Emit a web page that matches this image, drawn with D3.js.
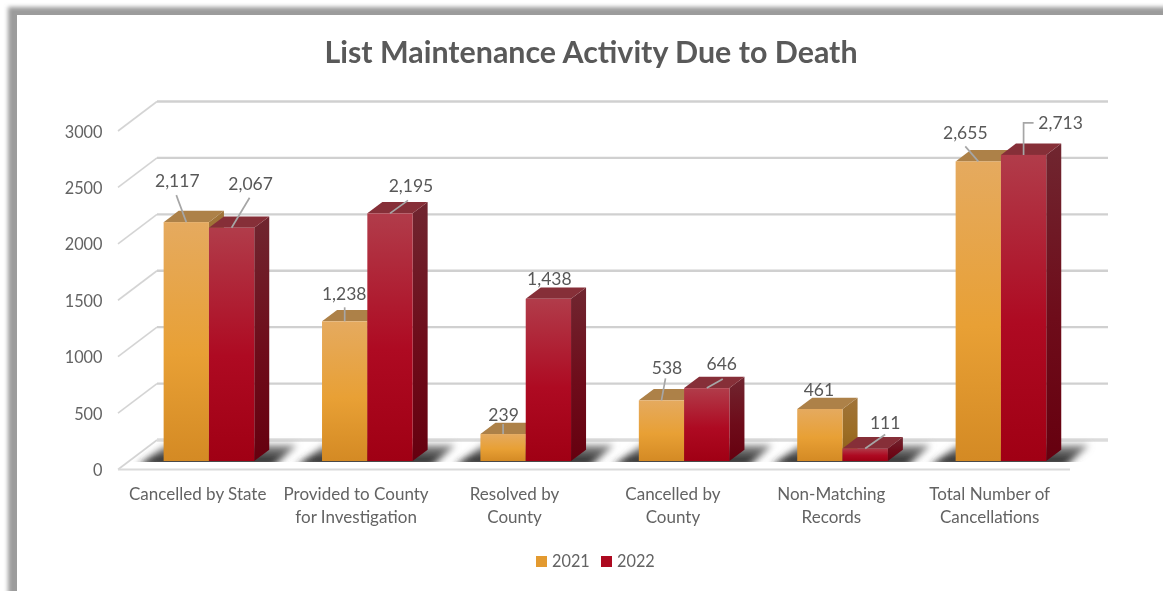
<!DOCTYPE html>
<html><head><meta charset="utf-8">
<script src="https://cdn.jsdelivr.net/npm/d3@7"></script>
<style>html,body{margin:0;padding:0;background:#fff;overflow:hidden}svg{display:block}text{font-family:Lato,sans-serif;filter:blur(.3px)}</style>
</head><body><svg id="c" width="1163" height="591"></svg>
<script>
const categories = [["Cancelled by State"],["Provided to County","for Investigation"],["Resolved by","County"],["Cancelled by","County"],["Non-Matching","Records"],["Total Number of","Cancellations"]];
const seriesNames = ["2021","2022"];
const values2021 = [2117,1238,239,538,461,2655];
const values2022 = [2067,2195,1438,646,111,2713];
const yTicks = [0,500,1000,1500,2000,2500,3000];

// layout only
const W=1163,H=591, L=118.5,R=1068.9, FLOOR_R=1070, Y0=469.5, Y3000=131, DX=39, DY=29.5, BF=0.288, BD=0.385;
// label offset from bar front-top centre, plus leader endpoints (null = no leader)
const labelNudge = {
 "2021":[[-9,-41,[-10,-27],[0,0]],[-0.5,-27,[0,-14],[0,0]],[0.5,-19,[0,-10],[0,0]],[5.5,-32,[4,-22],[0,0]],[-1,-19,null,null],[-13,-29,[-13,-15],[0,0]]],
 "2022":[[19,-44,[18,-30],[0,0]],[21,-27,[18,-13],[0,0]],[1,-20,null,null],[15,-24,[16,-9],[0,0]],[20,-26,[20,-14],[0,0]],[37,-32,[0,0],[0,0]]]
};
const svg=d3.select("#c");
const defs=svg.append("defs");
function grad(id,stops,x2=0,y2=1){const g=defs.append("linearGradient").attr("id",id).attr("x1",0).attr("y1",0).attr("x2",x2).attr("y2",y2);
 stops.forEach(s=>g.append("stop").attr("offset",s[0]).attr("stop-color",s[1]));}
grad("f0",[[0,"#e5aa5f"],[.55,"#e8a035"],[1,"#d48a24"]]);
grad("f1",[[0,"#b13c4a"],[.55,"#ae0a22"],[1,"#a00014"]]);
grad("s0",[[0,"#a0743a"],[.55,"#9c6d24"],[1,"#8a5c1a"]]);
grad("s1",[[0,"#702630"],[.55,"#6e0c1a"],[1,"#66000f"]]);
grad("sh",[[0,"#999"],[.55,"#444"],[1,"#1c1c1c"]]);
const blur=(id,d)=>defs.append("filter").attr("id",id).attr("x","-30%").attr("y","-80%").attr("width","160%").attr("height","260%").append("feGaussianBlur").attr("stdDeviation",d);
blur("b1",2);blur("b2",3.5);
const tones=["f0","f1"],sides=["s0","s1"],tops=["#ad8148","#862f38"];

// window frame
svg.append("rect").attr("x",8).attr("y",7).attr("width",W+40).attr("height",H+40).attr("fill","#9c9c9c").attr("filter","url(#b1)");
svg.append("rect").attr("x",17).attr("y",15).attr("width",W).attr("height",H).attr("fill","#fff");

const x=d3.scaleBand().domain(d3.range(categories.length)).range([L,R]);
const y=d3.scaleLinear().domain([0,3000]).range([Y0,Y3000]);
const unit=y(0)-y(1);
const sub=d3.scaleBand().domain(seriesNames).range([-45.3,45.3]);

// back wall
const grid=svg.append("g");
yTicks.forEach(t=>{
 grid.append("path").attr("d",`M118,${y(t)}L157,${y(t)-DY}`).attr("fill","none").attr("stroke","#d4d4d4").attr("stroke-width",1.6);
 grid.append("line").attr("x1",157).attr("x2",FLOOR_R+38).attr("y1",y(t)-DY).attr("y2",y(t)-DY).attr("stroke",t==0?"#dcdcdc":"#d0d0d0").attr("stroke-width",t==0?3.5:2.4);
});
// shadows, cut off at the bars' base line
const bx=i=>x(i)+x.bandwidth()/2+DX*BF;
const base=Y0-DY*BF, dxB=DX*BD, dyB=DY*BD;
svg.append("clipPath").attr("id","floorClip").append("rect").attr("x",0).attr("y",0).attr("width",W).attr("height",base+1);
const shadowG=svg.append("g").attr("clip-path","url(#floorClip)");
categories.forEach((c,i)=>{
 const l=bx(i)-45.3, r=bx(i)+45.3;
 shadowG.append("path").attr("d",`M${l-26},${base+5}L${r+dxB+4},${base+5}L${r+dxB+28},${base-16}L${l+3},${base-16}Z`).attr("fill","url(#sh)").attr("filter","url(#b2)");
});
// floor
svg.append("line").attr("x1",118).attr("x2",FLOOR_R).attr("y1",Y0).attr("y2",Y0).attr("stroke","#dadada").attr("stroke-width",2);

// bars
const seriesData=[values2021,values2022];
const pointFor=(i,s)=>({cx:bx(i)+sub(seriesNames[s])+sub.bandwidth()/2, top:base-seriesData[s][i]*unit});
categories.forEach((c,i)=>{
 seriesNames.forEach((n,s)=>{
  const v=seriesData[s][i], X=bx(i)+sub(n), w=sub.bandwidth(), t=base-v*unit, g=svg.append("g");
  g.append("path").attr("d",`M${X+w},${t}L${X+w+dxB},${t-dyB}L${X+w+dxB},${base-dyB}L${X+w},${base}Z`).attr("fill",`url(#${sides[s]})`);
  g.append("path").attr("d",`M${X},${t}L${X+dxB},${t-dyB}L${X+w+dxB},${t-dyB}L${X+w},${t}Z`).attr("fill",tops[s]);
  g.append("rect").attr("x",X).attr("y",t).attr("width",w).attr("height",v*unit).attr("fill",`url(#${tones[s]})`);
 });
});

// axes
const ya=svg.append("g").attr("transform",`translate(102.5,0.3)`).call(d3.axisLeft(y).tickValues(yTicks).tickSize(0).tickFormat(d3.format("d")));
ya.select(".domain").remove();
ya.selectAll("text").attr("font-size",16.3).attr("fill","#636363").attr("x",0).attr("dy","0.35em").attr("font-family","Lato");
const xa=svg.append("g").attr("transform",`translate(0,485)`).call(d3.axisBottom(x).tickSize(0).tickFormat(""));
xa.select(".domain").remove();
xa.selectAll(".tick").each(function(i){
 const t=d3.select(this).select("text").attr("y",0).attr("dy",0).attr("font-size",17).attr("fill","#636363").attr("font-family","Lato");
 categories[i].forEach((ln,k)=>t.append("tspan").attr("x",0).attr("y",k*22.5+15).text(ln));
});

// data labels & leaders
const fmt=d3.format(",");
seriesNames.forEach((n,s)=>{
 seriesData[s].forEach((v,i)=>{
  const p=pointFor(i,s), [dx,dy,a,b]=labelNudge[n][i], lx=p.cx+dx, ly=p.top+dy;
  if(a){
   let path=`M${p.cx+a[0]},${p.top+a[1]}L${p.cx+b[0]},${p.top+b[1]}`;
   if(n=="2022"&&i==5) path=`M${p.cx+10},${p.top-32}L${p.cx},${p.top-32}L${p.cx},${p.top}`;
   svg.append("path").attr("d",path).attr("fill","none").attr("stroke","#a6a6a6").attr("stroke-width",1.7);
  }
  svg.append("text").attr("x",lx).attr("y",ly).attr("dy","0.35em").attr("text-anchor","middle").attr("font-size",17.5).attr("fill","#585858").text(fmt(v));
 });
});

// title
svg.append("text").attr("x",591).attr("y",63).attr("text-anchor","middle").attr("font-size",30.4).attr("font-weight",700).attr("fill","#595959").text("List Maintenance Activity Due to Death");

// legend
const legendX=d3.scaleOrdinal().domain(seriesNames).range([536,601]);
const leg=svg.append("g");
seriesNames.forEach((n,s)=>{
 leg.append("rect").attr("x",legendX(n)).attr("y",556).attr("width",11).attr("height",11).attr("fill",["#e39a30","#ad0a20"][s]);
 leg.append("text").attr("x",legendX(n)+16).attr("y",561).attr("dy","0.35em").attr("font-size",16.3).attr("fill","#636363").text(n);
});
</script></body></html>
